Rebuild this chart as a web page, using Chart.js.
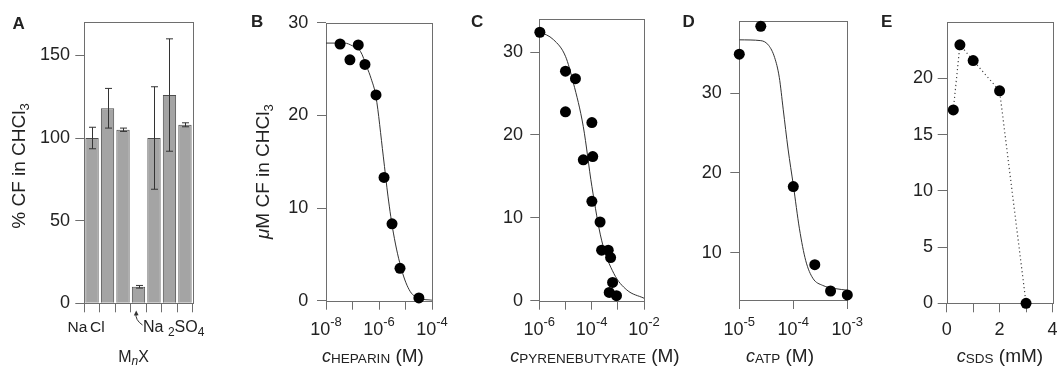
<!DOCTYPE html>
<html>
<head>
<meta charset="utf-8">
<script src="https://cdn.jsdelivr.net/npm/chart.js@4.4.1/dist/chart.umd.min.js"></script>
<style>
  body { margin: 0; background: #fff; }
  #wrap { position: relative; width: 1058px; height: 369px; overflow: hidden; }
  #wrap canvas { position: absolute; left: 0; top: 0; }
</style>
</head>
<body>
<div id="wrap">
  <canvas id="panelA" width="1058" height="369"></canvas>
  <canvas id="panelB" width="1058" height="369"></canvas>
  <canvas id="panelC" width="1058" height="369"></canvas>
  <canvas id="panelD" width="1058" height="369"></canvas>
  <canvas id="panelE" width="1058" height="369"></canvas>
</div>
<script>
// ---- data ----

// A: % CF extracted into CHCl3 for each salt condition
const saltLabels = ['NaCl a', 'NaCl b', 'NaCl c', 'Na2SO4 0', 'Na2SO4 a', 'Na2SO4 b', 'Na2SO4 c'];
const saltPercent = [100, 118, 105, 10, 100, 126, 108];
const saltError = [6.5, 12, 1, 0.8, 31, 34, 1.2];
const aYTicks = [0, 50, 100, 150];

// B: heparin
const heparinConc = [3.4e-8, 8e-8, 1.65e-7, 2.95e-7, 7.7e-7, 1.55e-6, 3.1e-6, 6.2e-6, 3.2e-5];
const heparinCF = [27.7, 26.0, 27.6, 25.5, 22.2, 13.3, 8.3, 3.5, 0.3];
const heparinFitConc = [1e-8, 5e-8, 1e-7, 2e-7, 3.5e-7, 5e-7, 7.7e-7, 1.45e-6, 2.2e-6, 3.5e-6, 7.2e-6, 1.5e-5, 3.5e-5, 1e-4];
const heparinFitCF = [27.8, 27.8, 27.5, 26.9, 25.2, 24.0, 22.0, 15.6, 11.2, 7.3, 3.3, 1.0, 0.25, 0.05];

// C: pyrenebutyrate
const pyreneConc = [1.05e-6, 1e-5, 2.4e-5, 1e-5, 1.02e-4, 4.8e-5, 1.1e-4, 1.02e-4, 2.1e-4, 2.4e-4, 4.3e-4, 5.3e-4, 6.3e-4, 4.7e-4, 8.9e-4];
const pyreneCF = [32.4, 27.7, 26.8, 22.8, 21.5, 17.0, 17.4, 12.0, 9.5, 6.1, 6.1, 5.2, 2.2, 1.0, 0.6];
const pyreneFitConc = [1e-6, 3.5e-6, 1e-5, 2e-5, 4.8e-5, 1.02e-4, 2.4e-4, 7e-4, 2.2e-3, 1e-2];
const pyreneFitCF = [32.5, 31.5, 29.5, 26.3, 21.0, 13.8, 7.3, 3.3, 1.3, 0.3];

// D: ATP
const atpConc = [1e-5, 2.5e-5, 1e-4, 2.5e-4, 4.9e-4, 1e-3];
const atpCF = [34.9, 38.4, 18.3, 8.5, 5.2, 4.7];
const atpFitConc = [1e-5, 2.5e-5, 3.5e-5, 4.5e-5, 5.5e-5, 6.5e-5, 8e-5, 1e-4, 1.3e-4, 1.7e-4, 2.3e-4, 3.5e-4, 6e-4, 1e-3];
const atpFitCF = [36.7, 36.6, 36.0, 34.5, 32.0, 28.0, 23.0, 18.5, 13.0, 9.0, 6.8, 5.9, 5.5, 5.3];

// E: SDS (mM)
const sdsConc = [0.25, 0.5, 1, 2, 3];
const sdsCF = [17.2, 23.0, 21.6, 18.9, 0];

// ---- drawing helpers ----
const FONT = '"Liberation Sans", Arial, Helvetica, sans-serif';
const INK = '#222';
const AXIS = '#6e6e6e';

function pieceFont(p) {
    return (p.bold ? 'bold ' : '') + (p.italic ? 'italic ' : '') + p.size + 'px ' + FONT;
}

// draw a row of text pieces (for sub/superscripts)
function drawRun(ctx, pieces, x, y, align) {
    let total = 0;
    pieces.forEach(p => { ctx.font = pieceFont(p); p.w = ctx.measureText(p.text).width; total += p.w; });
    let cx = align === 'center' ? x - total / 2 : (align === 'right' ? x - total : x);
    ctx.textAlign = 'left';
    ctx.textBaseline = 'alphabetic';
    pieces.forEach(p => { ctx.font = pieceFont(p); ctx.fillText(p.text, cx, y + (p.dy || 0)); cx += p.w; });
}

function drawVertical(ctx, pieces, x, cy) {
    ctx.save();
    ctx.translate(x, cy);
    ctx.rotate(-Math.PI / 2);
    drawRun(ctx, pieces, 0, 0, 'center');
    ctx.restore();
}

function xy(xs, ys) {
    return xs.map((x, i) => ({ x: x, y: ys[i] }));
}

const framePlugin = {
    id: 'frame',
    beforeDatasetsDraw(chart) {
        const a = chart.chartArea, ctx = chart.ctx;
        ctx.save();
        ctx.strokeStyle = AXIS;
        ctx.lineWidth = 1;
        ctx.strokeRect(Math.round(a.left) + 0.5, Math.round(a.top) + 0.5,
            Math.round(a.right) - Math.round(a.left), Math.round(a.bottom) - Math.round(a.top));
        ctx.restore();
    }
};

function axisOpts(extra) {
    return Object.assign({
        grid: { drawOnChartArea: false, tickLength: 9, color: AXIS, lineWidth: 1 },
        border: { display: false },
        ticks: { display: false }
    }, extra);
}

function fixedTicks(values) {
    return function(scale) { scale.ticks = values.map(v => ({ value: v })); };
}

// decorations: letter, tick labels, titles
function decorPlugin(d) {
    return {
        id: 'decor',
        afterDraw(chart) {
            const ctx = chart.ctx, a = chart.chartArea;
            const xs = chart.scales.x, ys = chart.scales.y;
            ctx.save();
            ctx.fillStyle = INK;
            drawRun(ctx, [{ text: d.letter, size: 17, bold: true }], d.letterX, d.letterY, 'left');
            ctx.font = '18px ' + FONT;
            ctx.textAlign = 'right';
            ctx.textBaseline = 'middle';
            d.yLabels.forEach(v => ctx.fillText(String(v), a.left - d.yGap, ys.getPixelForValue(v)));
            if (d.xExps) {
                d.xExps.forEach(e => drawRun(ctx, [{ text: '10', size: 18 }, { text: '-' + Math.abs(e), size: 13, dy: -9 }],
                    xs.getPixelForValue(Math.pow(10, e)), 335, 'center'));
            }
            if (d.xLabels) {
                d.xLabels.forEach(v => drawRun(ctx, [{ text: String(v), size: 18 }], xs.getPixelForValue(v), 335, 'center'));
            }
            if (d.xTitle) drawRun(ctx, d.xTitle, d.xTitleX, 361.5, 'center');
            if (d.yTitle) drawVertical(ctx, d.yTitle, d.yTitleX, d.yTitleY);
            if (d.extra) d.extra(ctx, chart);
            ctx.restore();
        }
    };
}

function frameLayout(f) {
    return { padding: { left: f.l - 10, right: 1058 - f.r, top: f.t, bottom: 369 - f.b - 10 } };
}

// ---- panel A: bars with error bars ----
const errorBarPlugin = {
    id: 'errorBars',
    afterDatasetsDraw(chart) {
        const ctx = chart.ctx, ys = chart.scales.y;
        const meta = chart.getDatasetMeta(0);
        ctx.save();
        ctx.strokeStyle = '#333';
        ctx.lineWidth = 1;
        meta.data.forEach((bar, i) => {
            const x = Math.round(bar.x) + 0.5;
            const top = ys.getPixelForValue(saltPercent[i] + saltError[i]);
            const bot = ys.getPixelForValue(saltPercent[i] - saltError[i]);
            ctx.beginPath();
            ctx.moveTo(x, top); ctx.lineTo(x, bot);
            ctx.moveTo(x - 3.5, top); ctx.lineTo(x + 3.5, top);
            ctx.moveTo(x - 3.5, bot); ctx.lineTo(x + 3.5, bot);
            ctx.stroke();
        });
        ctx.restore();
    }
};

const frameA = { l: 84.3, r: 192.7, t: 22.3, b: 303.3 };
new Chart(document.getElementById('panelA'), {
    type: 'bar',
    data: {
        labels: saltLabels,
        datasets: [{
            data: saltPercent,
            backgroundColor: '#a4a4a4',
            borderColor: '#4d4d4d',
            borderWidth: 1,
            barPercentage: 0.86,
            categoryPercentage: 1
        }]
    },
    options: {
        responsive: false,
        animation: false,
        layout: frameLayout(frameA),
        plugins: { legend: { display: false }, tooltip: { enabled: false } },
        scales: {
            x: axisOpts({ grid: { offset: true, drawOnChartArea: false, tickLength: 9, color: AXIS }, afterFit: s => { s.height = 10; } }),
            y: axisOpts({ min: 0, max: 170, afterBuildTicks: fixedTicks(aYTicks), afterFit: s => { s.width = 10; } })
        }
    },
    plugins: [framePlugin, errorBarPlugin, decorPlugin({
        letter: 'A', letterX: 12.5, letterY: 28.5,
        yLabels: aYTicks, yGap: 14.3,
        xTitle: [{ text: 'M', size: 16 }, { text: 'n', size: 12, italic: true, dy: 3 }, { text: 'X', size: 16 }],
        xTitleX: 133.5,
        yTitle: [{ text: '% CF in CHCl', size: 19 }, { text: '3', size: 13, dy: 4 }],
        yTitleX: 25, yTitleY: 166,
        extra(ctx) {
            drawRun(ctx, [{ text: 'Na', size: 15.5 }], 67.5, 331.7, 'left');
            drawRun(ctx, [{ text: 'Cl', size: 15.5 }], 90, 331.7, 'left');
            drawRun(ctx, [{ text: 'Na ', size: 16 }, { text: '2', size: 12, dy: 4 }, { text: 'SO', size: 16 }, { text: '4', size: 12, dy: 4 }], 143, 331.7, 'left');
            // little curved arrow pointing to the 4th bar
            ctx.strokeStyle = '#333';
            ctx.lineWidth = 1;
            ctx.beginPath();
            ctx.moveTo(142.5, 325);
            ctx.quadraticCurveTo(135, 320, 136, 313);
            ctx.stroke();
            ctx.fillStyle = '#333';
            ctx.beginPath();
            ctx.moveTo(136.2, 310.5);
            ctx.lineTo(133.8, 315.5);
            ctx.lineTo(138.6, 315.3);
            ctx.closePath();
            ctx.fill();
        }
    })]
});

// ---- panels B-E: scatter with fit lines ----
function scatterPanel(id, frame, xScale, yScale, datasets, decor) {
    return new Chart(document.getElementById(id), {
        type: 'scatter',
        data: { datasets: datasets },
        options: {
            responsive: false,
            animation: false,
            layout: frameLayout(frame),
            plugins: { legend: { display: false }, tooltip: { enabled: false } },
            scales: {
                x: axisOpts(Object.assign({ afterFit: s => { s.height = 10; } }, xScale)),
                y: axisOpts(Object.assign({ afterFit: s => { s.width = 10; } }, yScale))
            }
        },
        plugins: [framePlugin, decorPlugin(decor)]
    });
}

function fitLine(data) {
    return { data: data, showLine: true, pointRadius: 0, borderColor: '#333', borderWidth: 1, cubicInterpolationMode: 'monotone' };
}
function dots(data) {
    return { data: data, pointRadius: 5.5, pointBackgroundColor: '#000', pointBorderWidth: 0, clip: false };
}

function sc(big, text) {
    return [{ text: 'c', size: 18, italic: true }, { text: text, size: 13.5, dy: 1.5 }, { text: ' ' + big, size: 19 }];
}

const cfTitle = [{ text: '\u03bc', size: 19, italic: true }, { text: 'M CF in CHCl', size: 19 }, { text: '3', size: 13, dy: 4 }];

const bXTicks = [1e-8, 1e-7, 1e-6, 1e-5, 1e-4];
const bYTicks = [0, 10, 20, 30];
scatterPanel('panelB', { l: 326, r: 432, t: 22.7, b: 300.7 },
    { type: 'logarithmic', min: 1e-8, max: 1e-4, afterBuildTicks: fixedTicks(bXTicks) },
    { min: 0, max: 30, afterBuildTicks: fixedTicks(bYTicks) },
    [dots(xy(heparinConc, heparinCF)), fitLine(xy(heparinFitConc, heparinFitCF))],
    { letter: 'B', letterX: 251, letterY: 27, yLabels: bYTicks, yGap: 17.7, xExps: [-8, -6, -4],
      xTitle: sc('(M)', 'HEPARIN'), xTitleX: 373, yTitle: cfTitle, yTitleX: 268.5, yTitleY: 171.7 });

const cXTicks = [1e-6, 1e-5, 1e-4, 1e-3, 1e-2];
const cYTicks = [0, 10, 20, 30];
scatterPanel('panelC', { l: 539.3, r: 644, t: 19, b: 300.7 },
    { type: 'logarithmic', min: 1e-6, max: 1e-2, afterBuildTicks: fixedTicks(cXTicks) },
    { min: 0, max: 34, afterBuildTicks: fixedTicks(cYTicks) },
    [dots(xy(pyreneConc, pyreneCF)), fitLine(xy(pyreneFitConc, pyreneFitCF))],
    { letter: 'C', letterX: 471, letterY: 27, yLabels: cYTicks, yGap: 16.3, xExps: [-6, -4, -2],
      xTitle: sc('(M)', 'PYRENEBUTYRATE'), xTitleX: 595 });

const dXTicks = [1e-5, 1e-4, 1e-3];
const dYTicks = [10, 20, 30];
scatterPanel('panelD', { l: 739.3, r: 847.3, t: 20.7, b: 300 },
    { type: 'logarithmic', min: 1e-5, max: 1e-3, afterBuildTicks: fixedTicks(dXTicks) },
    { min: 4.07, max: 39.1, afterBuildTicks: fixedTicks(dYTicks) },
    [dots(xy(atpConc, atpCF)), fitLine(xy(atpFitConc, atpFitCF))],
    { letter: 'D', letterX: 682.5, letterY: 27, yLabels: dYTicks, yGap: 17.6, xExps: [-5, -4, -3],
      xTitle: sc('(M)', 'ATP'), xTitleX: 780 });

const eXTicks = [0, 1, 2, 3, 4];
const eXLabels = [0, 2, 4];
const eYTicks = [0, 5, 10, 15, 20];
scatterPanel('panelE', { l: 946.7, r: 1055, t: 22.3, b: 303.3 },
    { type: 'linear', min: 0, max: 4, afterBuildTicks: fixedTicks(eXTicks) },
    { min: 0, max: 25, afterBuildTicks: fixedTicks(eYTicks) },
    [Object.assign(dots(xy(sdsConc, sdsCF)), { showLine: true, borderColor: '#444', borderWidth: 1.2, borderDash: [1.2, 2.8] })],
    { letter: 'E', letterX: 881, letterY: 27, yLabels: eYTicks, yGap: 13.7, xLabels: eXLabels,
      xTitle: sc('(mM)', 'SDS'), xTitleX: 1000 });
</script>
</body>
</html>
